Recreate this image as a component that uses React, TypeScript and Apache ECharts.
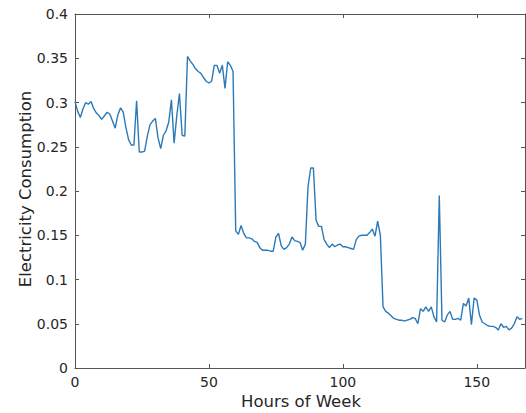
import React, { useEffect, useRef } from "react";
import * as echarts from "echarts";

const hours: number[] = Array.from({ length: 168 }, (_, i) => i);

const consumption: number[] = [
  0.301, 0.29, 0.283, 0.293, 0.3, 0.298, 0.301, 0.293, 0.288, 0.285,
  0.281, 0.285, 0.289, 0.287, 0.279, 0.271, 0.286, 0.294, 0.289, 0.272,
  0.258, 0.252, 0.252, 0.302, 0.244, 0.244, 0.245, 0.262, 0.275, 0.279,
  0.282, 0.26, 0.248, 0.263, 0.268, 0.278, 0.303, 0.254, 0.285, 0.31,
  0.263, 0.262, 0.352, 0.347, 0.343, 0.338, 0.335, 0.333, 0.328, 0.324,
  0.322, 0.324, 0.342, 0.342, 0.333, 0.342, 0.316, 0.346, 0.342, 0.335,
  0.155, 0.151, 0.161, 0.152, 0.147, 0.147, 0.146, 0.143, 0.142, 0.136,
  0.133, 0.133, 0.133, 0.132, 0.132, 0.148, 0.152, 0.138, 0.134, 0.136,
  0.14, 0.148, 0.144, 0.143, 0.142, 0.133, 0.14, 0.205, 0.226, 0.226,
  0.167, 0.16, 0.16, 0.145, 0.14, 0.136, 0.14, 0.137, 0.139, 0.14,
  0.137, 0.137, 0.136, 0.135, 0.134, 0.145, 0.149, 0.15, 0.15, 0.15,
  0.153, 0.157, 0.149, 0.166, 0.15, 0.069, 0.064, 0.062, 0.059, 0.056,
  0.055, 0.054, 0.054, 0.053, 0.054, 0.055, 0.057, 0.056, 0.05, 0.067,
  0.064, 0.069, 0.064, 0.069, 0.058, 0.052, 0.195, 0.054, 0.052, 0.06,
  0.064, 0.055, 0.055, 0.056, 0.054, 0.073, 0.07, 0.079, 0.049, 0.079,
  0.077, 0.06, 0.052, 0.05, 0.048, 0.047, 0.047, 0.046, 0.043, 0.05,
  0.046, 0.047, 0.043, 0.045, 0.05, 0.058, 0.055, 0.056,
];

const xTicks = { min: 0, max: 168, interval: 50 };
const yTicks = { min: 0, max: 0.4, interval: 0.05 };
const xTitle = "Hours of Week";
const yTitle = "Electricity Consumption";

const FONT = "DejaVu Sans";
const AXIS_COLOR = "#555555";
const TEXT_COLOR = "#262626";

export default function App() {
  const ref = useRef<HTMLDivElement>(null);

  useEffect(() => {
    if (!ref.current) return;
    const chart = echarts.init(ref.current, undefined, { renderer: "svg" });
    const axisLine = { show: true, onZero: false, lineStyle: { color: AXIS_COLOR, width: 1 } };
    const tick = { show: true, inside: true, length: 4, lineStyle: { color: AXIS_COLOR } };
    chart.setOption({
      animation: false,
      backgroundColor: "#ffffff",
      grid: { left: 75, top: 14, width: 450, height: 354, containLabel: false },
      xAxis: [
        {
          type: "value",
          min: xTicks.min,
          max: xTicks.max,
          interval: xTicks.interval,
          axisLine,
          axisTick: tick,
          splitLine: { show: false },
          axisLabel: {
            fontFamily: FONT,
            fontSize: 14,
            color: TEXT_COLOR,
            margin: 7,
            showMaxLabel: false,
          },
        },
        {
          type: "value",
          position: "top",
          min: xTicks.min,
          max: xTicks.max,
          interval: xTicks.interval,
          axisLine,
          axisTick: tick,
          splitLine: { show: false },
          axisLabel: { show: false },
        },
      ],
      yAxis: [
        {
          type: "value",
          min: yTicks.min,
          max: yTicks.max,
          interval: yTicks.interval,
          axisLine,
          axisTick: tick,
          splitLine: { show: false },
          axisLabel: {
            fontFamily: FONT,
            fontSize: 14,
            color: TEXT_COLOR,
            margin: 7,
            formatter: (v: number) => String(+v.toFixed(2)),
          },
        },
        {
          type: "value",
          position: "right",
          min: yTicks.min,
          max: yTicks.max,
          interval: yTicks.interval,
          axisLine,
          axisTick: tick,
          splitLine: { show: false },
          axisLabel: { show: false },
        },
      ],
      graphic: [
        {
          type: "text",
          x: 301,
          y: 401,
          style: {
            text: xTitle,
            fontFamily: FONT,
            fontSize: 16.5,
            fill: TEXT_COLOR,
            align: "center",
            verticalAlign: "middle",
          },
        },
        {
          type: "text",
          x: 25,
          y: 189,
          rotation: Math.PI / 2,
          style: {
            text: yTitle,
            fontFamily: FONT,
            fontSize: 16.5,
            fill: TEXT_COLOR,
            align: "center",
            verticalAlign: "middle",
          },
        },
      ],
      series: [
        {
          type: "line",
          data: hours.map((h, i) => [h, consumption[i]]),
          showSymbol: false,
          symbol: "none",
          lineStyle: { color: "#2a7ab9", width: 1.4 },
        },
      ],
    });
    return () => chart.dispose();
  }, []);

  return (
    <div
      ref={ref}
      style={{ position: "fixed", left: 0, top: 0, width: 526, height: 413 }}
    />
  );
}
